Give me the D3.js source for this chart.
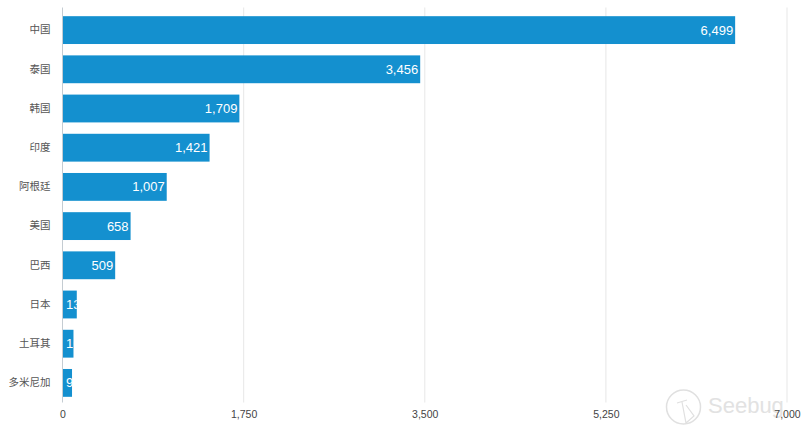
<!DOCTYPE html>
<html>
<head>
<meta charset="utf-8">
<script src="https://cdn.jsdelivr.net/npm/d3@7"></script>
<style>
    html, body { margin: 0; background: #fff; }
    text { font-family: "Liberation Sans", "Noto Sans CJK SC", sans-serif; }
    .cat-label { font-family: "Noto Sans CJK SC", sans-serif; font-size: 10.5px; fill: #555; }
    .bar-label { font-size: 13px; fill: #fff; }
    .x-tick { font-size: 10.5px; fill: #444; }
</style>
</head>
<body>
<svg id="chart" width="812" height="435" style="display:block"></svg>
<script>
const countries = ["中国", "泰国", "韩国", "印度", "阿根廷", "美国", "巴西", "日本", "土耳其", "多米尼加"];
const counts = [6499, 3456, 1709, 1421, 1007, 658, 509, 138, 106, 92];
const xTickValues = [0, 1750, 3500, 5250, 7000];

const svg = d3.select("#chart");
const margin = { top: 10.5, right: 25, bottom: 32.5, left: 62.5 };
const plotWidth = 812 - margin.left - margin.right;
const plotHeight = 435 - margin.top - margin.bottom;

const xScale = d3.scaleLinear().domain([0, 7000]).range([0, plotWidth]);
const yScale = d3.scaleBand().domain(countries).range([0, plotHeight])
    .paddingInner(0.29)
    .paddingOuter(0.145);
const formatNum = d3.format(",");

// watermark sits under the chart
const mark = svg.append("g").attr("fill", "none").attr("stroke", "#e0e0e0");
mark.append("circle").attr("cx", 683.5).attr("cy", 407).attr("r", 17).attr("stroke-width", 1.5);
mark.append("path").attr("d", "M677 403 L687 400 M682 402 L686 423 L694 416 L686 405").attr("stroke-width", 1.2);
svg.append("text")
    .attr("x", 708)
    .attr("y", 413)
    .attr("font-size", 22)
    .attr("fill", "#e2e2e2")
    .text("Seebug");

const g = svg.append("g")
    .attr("transform", `translate(${margin.left},${margin.top})`);

// grid
g.selectAll(".grid").data(xTickValues.slice(1))
    .enter()
    .append("line")
    .attr("x1", d => xScale(d))
    .attr("x2", d => xScale(d))
    .attr("y1", -3)
    .attr("y2", plotHeight)
    .attr("stroke", "#ebebeb")
    .attr("stroke-width", 1.2);

const xAxis = d3.axisBottom(xScale)
    .tickValues(xTickValues)
    .tickSize(0)
    .tickPadding(8)
    .tickFormat(formatNum);
const xAxisG = g.append("g")
    .attr("transform", `translate(0,${plotHeight})`)
    .call(xAxis);
xAxisG.selectAll(".domain").remove();
xAxisG.selectAll("text").attr("class", "x-tick").attr("fill", null);

const yAxis = d3.axisLeft(yScale).tickSize(0).tickPadding(12);
const yAxisG = g.append("g").call(yAxis);
yAxisG.selectAll(".domain").remove();
yAxisG.selectAll("text").attr("class", "cat-label").attr("fill", null);

// bars, labels get clipped to their bar
const rows = countries.map((c, i) => ({ country: c, count: counts[i], id: `bar-clip-${i}` }));

g.selectAll("clipPath").data(rows)
    .enter()
    .append("clipPath")
    .attr("id", d => d.id)
    .append("rect")
    .attr("x", 0)
    .attr("y", d => yScale(d.country))
    .attr("width", d => xScale(d.count))
    .attr("height", yScale.bandwidth());

g.selectAll(".bar").data(rows)
    .enter()
    .append("rect")
    .attr("x", 0)
    .attr("y", d => yScale(d.country))
    .attr("width", d => xScale(d.count))
    .attr("height", yScale.bandwidth())
    .attr("fill", "#1490cf");

g.selectAll(".bar-label").data(rows)
    .enter()
    .append("text")
    .attr("class", "bar-label")
    .attr("clip-path", d => `url(#${d.id})`)
    .attr("dy", "0.35em")
    .attr("y", d => yScale(d.country) + yScale.bandwidth() / 2)
    .attr("x", d => xScale(d.count) > 30 ? xScale(d.count) - 2 : 3.5)
    .attr("text-anchor", d => xScale(d.count) > 30 ? "end" : "start")
    .text(d => formatNum(d.count));

// axis line
g.append("line")
    .attr("y1", -3)
    .attr("y2", plotHeight)
    .attr("stroke", "#c4ccd2");
</script>
</body>
</html>
